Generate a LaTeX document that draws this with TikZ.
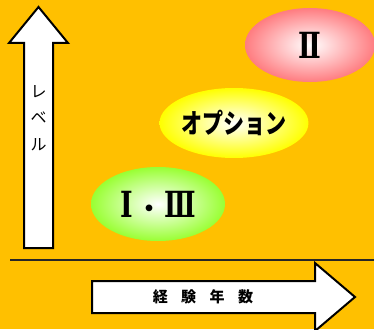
\documentclass[tikz,border=0pt]{standalone}
\usepackage{fontspec}
\setmainfont{Noto Sans CJK JP}
\newfontfamily\romfont{DejaVu Serif}
\usepackage{tikz}
\usetikzlibrary{shapes.geometric}

\definecolor{bgorange}{HTML}{FFC000}
\definecolor{lvgreen}{HTML}{99FF33}
\definecolor{lvyellow}{HTML}{FFFF00}
\definecolor{lvpink}{HTML}{FF7C80}

\tikzset{
  blockarrow/.style={draw=black, fill=white, line width=2pt, line join=miter},
  levelball/.style={ellipse, inner sep=0pt, inner color=white},
  kana/.style={font=\fontsize{16}{16}\selectfont, inner sep=0pt},
  roman/.style={font=\fontsize{36}{36}\romfont\bfseries}
}

\begin{document}
\begin{tikzpicture}[x=1pt, y=-1pt]
		\useasboundingbox (0,0) rectangle (374,329);
		\fill[bgorange] (0,0) rectangle (374,329);
		\clip (0,0) rectangle (374,329);
		% Achsen
		\draw[blockarrow] (24,248) -- (24,43) -- (9,43) -- (38.5,7) -- (68,43) -- (53,43) -- (53,248) -- cycle;
		\draw[blockarrow] (92,281) -- (315,281) -- (315,263) -- (355,297) -- (315,331) -- (315,313) -- (92,313) -- cycle;
		\coordinate (base west) at (10,260);
		\coordinate (base east) at (374,260);
		\draw[line width=1.5pt, black!85] (base west) -- (base east);
		\node[kana] (re) at (38.5,92) {レ};
		\node[kana] (be) at (38.5,118) {ベ};
		\node[kana] (ru) at (38.5,145) {ル};
		\node[font=\fontsize{15}{15}\selectfont\bfseries, inner sep=0pt] (years) at (203,297) {経\hspace{0.9em}験\hspace{0.9em}年\hspace{0.9em}数};
		% Stufen
		\node[levelball, outer color=lvgreen, minimum width=134, minimum height=74, roman] (lvA) at (158,204)
			{\scalebox{0.75}[1]{Ⅰ}\hspace{4pt}{\fontsize{24}{24}\rmfamily\bfseries ・}\hspace{3pt}\scalebox{0.72}[1]{Ⅲ}};
		\node[levelball, outer color=lvyellow, minimum width=132, minimum height=70, font=\fontsize{27}{27}\selectfont\bfseries] (lvOpt) at (234,123)
			{\scalebox{0.78}[1]{オプション}};
		\node[levelball, outer color=lvpink, minimum width=130, minimum height=74, roman] (lvB) at (310,45)
			{\scalebox{0.75}[1]{Ⅱ}};
\end{tikzpicture}
\end{document}
